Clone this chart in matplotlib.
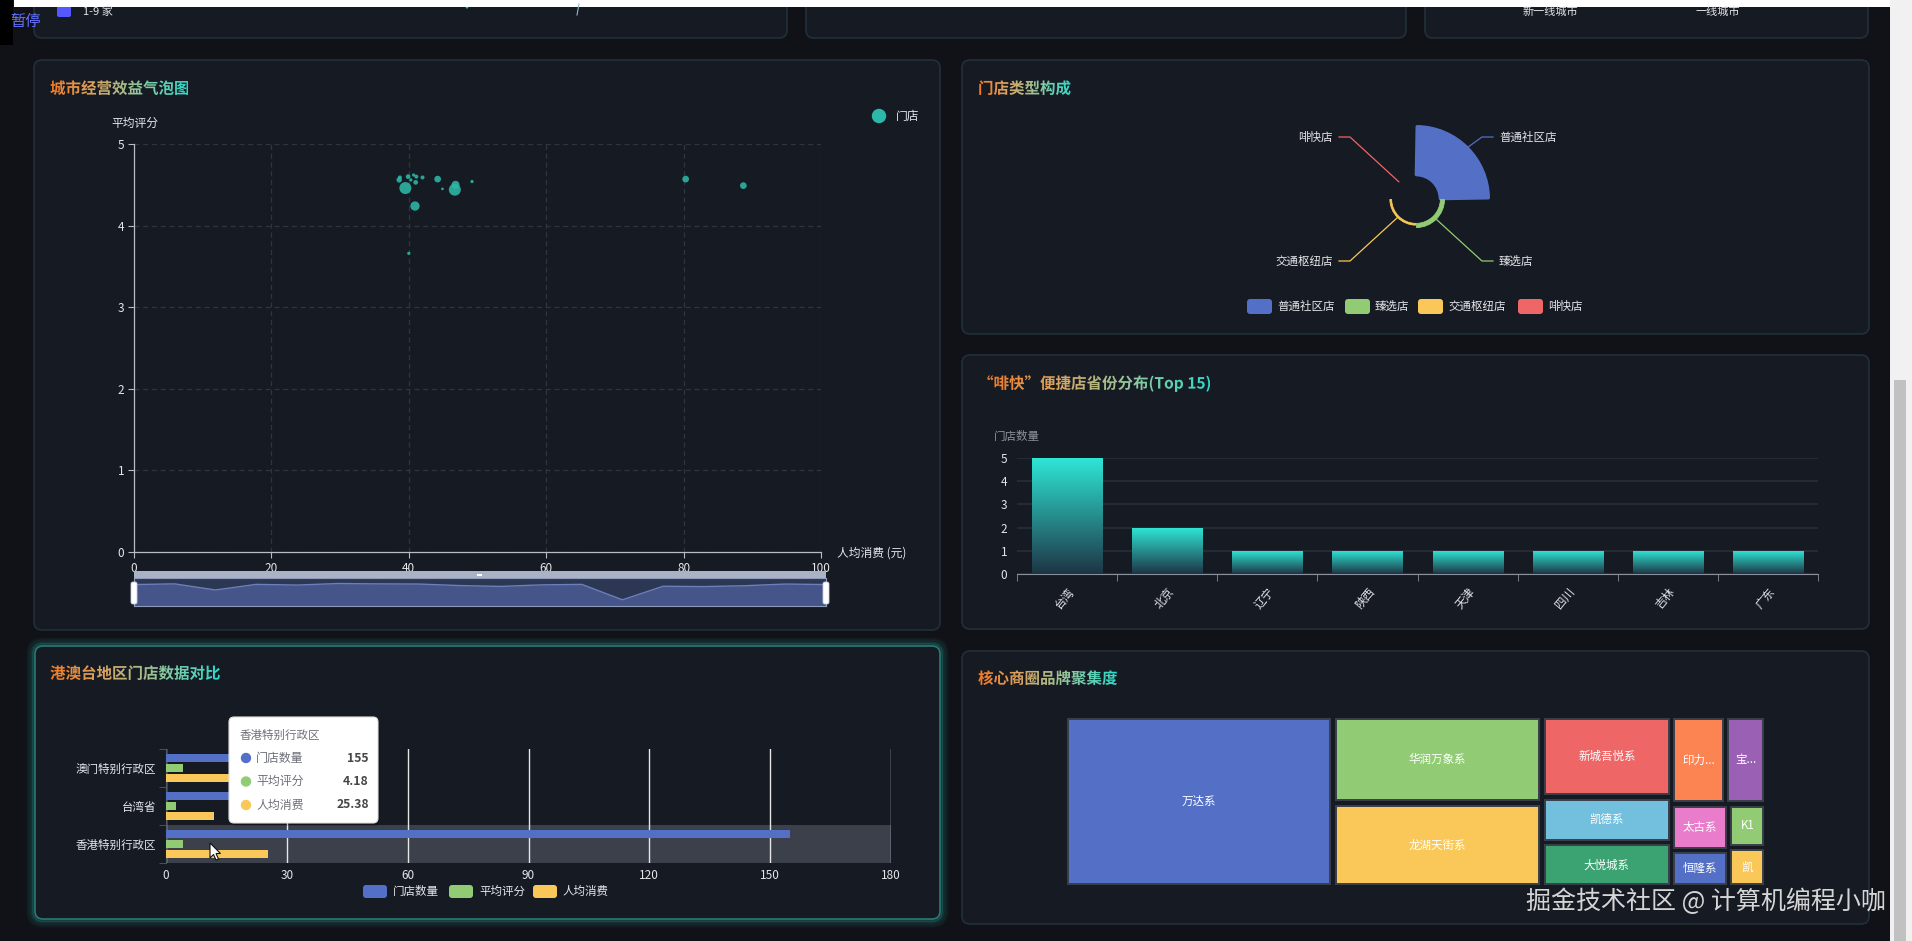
import numpy as np
import matplotlib
matplotlib.use('Agg')
import matplotlib.pyplot as plt
from matplotlib.patches import FancyBboxPatch, Rectangle, Wedge, PathPatch, Polygon, Circle
from matplotlib.textpath import TextPath
from matplotlib.font_manager import FontProperties
from matplotlib.transforms import Affine2D
from matplotlib.colors import LinearSegmentedColormap

plt.rcParams['font.family'] = ['Noto Sans CJK SC', 'DejaVu Sans']
plt.rcParams['axes.unicode_minus'] = False

# ---------------------------------------------------------------- data
bubble_spend = [38.6, 39.9, 40.9, 44.2, 41.0, 40.7, 41.1, 42.0, 46.8, 44.9,
                49.2, 80.3, 40.0, 39.5, 46.7, 88.7, 38.7, 40.3]
bubble_rating = [4.56, 4.60, 4.24, 4.57, 4.53, 4.62, 4.60, 4.59, 4.50, 4.45,
                 4.54, 4.57, 3.66, 4.46, 4.44, 4.49, 4.59, 4.56]
bubble_symbol = [5.4, 4.7, 9.3, 6.7, 4.7, 3.3, 4.0, 4.0, 8.0, 2.7,
                 3.3, 6.7, 3.3, 12.0, 12.0, 6.7, 4.0, 3.3]

store_types = ['普通社区店', '臻选店', '交通枢纽店', '啡快店']
store_type_counts = [1200, 120, 60, 13]

provinces = ['台湾', '北京', '辽宁', '陕西', '天津', '四川', '吉林', '广东']
province_counts = [5, 2, 1, 1, 1, 1, 1, 1]

regions = ['香港特别行政区', '台湾省', '澳门特别行政区']
region_store_counts = [155, 20, 25]
region_ratings = [4.18, 2.6, 4.2]
region_spend = [25.38, 11.9, 28.0]
region_series = ['门店数量', '平均评分', '人均消费']

brands = ['万达系', '华润万象系', '龙湖天街系', '新城吾悦系', '凯德系', '大悦城系',
          '印力...', '宝...', '太古系', '恒隆系', 'K1', '凯']
brand_counts = [310, 123, 118, 71, 40, 39, 32, 24, 18, 14, 11, 10]

PALETTE = ['#5470c6', '#91cc75', '#fac858', '#ee6666', '#73c0de', '#3ba272',
           '#fc8452', '#9a60b4', '#ea7ccc']

# ---------------------------------------------------------------- figure
W, H = 1912, 941
PAGE = '#101218'
PANEL = '#161a22'
EDGE = '#22303a'
TXT = '#e4e6ea'

fig = plt.figure(figsize=(W / 100, H / 100), dpi=100)
fig.patch.set_facecolor(PAGE)

bg = fig.add_axes([0, 0, 1, 1])
bg.set_xlim(0, W); bg.set_ylim(H, 0); bg.axis('off')


def axpx(x0, y0, x1, y1):
    return fig.add_axes([x0 / W, 1 - y1 / H, (x1 - x0) / W, (y1 - y0) / H])


def panel(x0, y0, x1, y1, glow=False):
    if glow:
        for k, a in [(7, 0.05), (5, 0.08), (3, 0.12), (1.5, 0.2)]:
            bg.add_patch(FancyBboxPatch((x0 - k, y0 - k), x1 - x0 + 2 * k, y1 - y0 + 2 * k,
                                        boxstyle=f"round,pad=0,rounding_size={8 + k}",
                                        fc='none', ec='#2bd0bd', lw=2.2, alpha=a))
    bg.add_patch(FancyBboxPatch((x0, y0), x1 - x0, y1 - y0,
                                boxstyle="round,pad=0,rounding_size=8",
                                fc=PANEL, ec='#2a7a72' if glow else EDGE, lw=1.2))


# top (cut off) panels
panel(34, -30, 787, 38)
panel(806, -30, 1406, 38)
panel(1425, -30, 1868, 38)
# main panels
panel(34, 60, 940, 630)
panel(962, 60, 1869, 334)
panel(962, 355, 1869, 629)
panel(35, 646, 940, 919, glow=True)
panel(962, 651, 1869, 924)

# overlay axes for decorations on top
ov = fig.add_axes([0, 0, 1, 1])
ov.set_zorder(10)
ov.axis('off')
ov.set_autoscale_on(False)
ov.set_xlim(0, W); ov.set_ylim(H, 0)

TITLE_FP = FontProperties(family='Noto Sans CJK SC', weight='bold')
title_cmap = LinearSegmentedColormap.from_list('tg', ['#f27b25', '#d7a765', '#8cc9a2', '#2fd9c9'])


def grad_title(x, yc, text, size=15.5):
    tp = TextPath((0, 0), text, size=size, prop=TITLE_FP)
    ext = tp.get_extents()
    base = yc + size * 0.36
    path = Affine2D().scale(1, -1).translate(x, base).transform_path(tp)
    patch = PathPatch(path, fc='none', ec='none')
    ov.add_patch(patch)
    grad = np.linspace(0, 1, 256).reshape(1, -1)
    im = ov.imshow(grad, cmap=title_cmap, extent=[x + ext.x0, x + ext.x1, base + 5, base - size - 3],
                   aspect='auto', interpolation='bilinear', zorder=20)
    im.set_clip_path(patch)


grad_title(50, 88, '城市经营效益气泡图')
grad_title(978, 88, '门店类型构成')
grad_title(978, 383, '“啡快”便捷店省份分布(Top 15)')
grad_title(50, 673, '港澳台地区门店数据对比')
grad_title(978, 678, '核心商圈品牌聚集度')

# ---------------------------------------------------------------- bubble chart
ax1 = axpx(134, 144, 821, 552)
ax1.set_facecolor('none')
ax1.set_xlim(0, 100); ax1.set_ylim(0, 5)
ax1.set_xticks(np.arange(0, 101, 20)); ax1.set_yticks(np.arange(0, 6, 1))
ax1.grid(True, color='#2e3442', lw=0.9, ls=(0, (4, 3)))
ax1.set_axisbelow(True)
for s in ['top', 'right']:
    ax1.spines[s].set_visible(False)
for s in ['left', 'bottom']:
    ax1.spines[s].set_color('#b8bcc4'); ax1.spines[s].set_linewidth(0.9)
ax1.tick_params(colors='#b8bcc4', labelcolor=TXT, labelsize=8.5, length=4, width=0.8, pad=3)
ax1.scatter(bubble_spend, bubble_rating, s=(np.array(bubble_symbol) * 0.72) ** 2,
            c='#2cb8a8', alpha=0.88, edgecolors='none', zorder=3)
ov.text(135, 123, '平均评分', color=TXT, fontsize=8.5, ha='center', va='center')
ov.text(837, 553, '人均消费 (元)', color=TXT, fontsize=8.5, ha='left', va='center')
ov.add_patch(Circle((879, 116), 6.5, color='#2cb8a8'))
ov.text(896, 116, '门店', color=TXT, fontsize=8.5, ha='left', va='center')

# data-zoom slider
ov.add_patch(Rectangle((134, 571), 692, 7, fc='#aab2c6', ec='none'))
ov.add_patch(Rectangle((477, 573.5), 5, 2, fc='#ffffff', ec='none'))
axs = axpx(134, 578, 826, 606)
axs.set_facecolor('#2c3754')
n = len(bubble_rating)
rmin, rmax = min(bubble_rating), max(bubble_rating)
span = rmax - rmin
axs.set_xlim(0, n - 1)
axs.set_ylim(rmin - 0.38 * span, rmax + 0.34 * span)
axs.fill_between(np.arange(n), bubble_rating, rmin - 0.38 * span, color='#45558a', lw=0)
axs.plot(np.arange(n), bubble_rating, color='#6b7fb8', lw=1)
axs.set_xticks([]); axs.set_yticks([])
for s in axs.spines.values():
    s.set_color('#8e9ab8'); s.set_linewidth(0.8)
for hx in (134, 826):
    ov.add_patch(FancyBboxPatch((hx - 3, 582), 6, 22, boxstyle='round,pad=0,rounding_size=2',
                                fc='#ffffff', ec='#c8cdd8', lw=0.6))

# ---------------------------------------------------------------- rose pie
axp = axpx(1316, 99, 1516, 299)
axp.set_xlim(-100, 100); axp.set_ylim(-100, 100); axp.axis('off')
r0, r1 = 24.4, 73.0
cmin, cmax = min(store_type_counts), max(store_type_counts)
for i, (name, v) in enumerate(zip(store_types, store_type_counts)):
    rr = r0 + (v - cmin) / (cmax - cmin) * (r1 - r0)
    t1, t2 = 90 - (i + 1) * 90, 90 - i * 90
    col = PALETTE[i]
    if rr - r0 > 0.3:
        lwv = 2.5 if rr - r0 > 8 else 0.6
        axp.add_patch(Wedge((0, 0), rr - lwv * 0.3, t1 + 1.0, t2 - 1.0, width=rr - r0 - lwv * 0.3,
                            fc=col, ec=col, lw=lwv, joinstyle='round'))
    mid = np.deg2rad((t1 + t2) / 2)
    sx, sy = np.sign(np.cos(mid)), np.sign(np.sin(mid))
    p0 = (rr * np.cos(mid), rr * np.sin(mid))
    p1 = (sx * 66, sy * 62)
    p2 = (sx * 77, sy * 62)
    axp.plot([p0[0], p1[0], p2[0]], [p0[1], p1[1], p2[1]], color=col, lw=0.9, clip_on=False)
    axp.text(sx * 83, sy * 62, name, color=TXT, fontsize=8.3, va='center',
             ha='left' if sx > 0 else 'right', clip_on=False)

leg_x = [1247, 1345, 1418, 1518]
for i, name in enumerate(store_types):
    ov.add_patch(FancyBboxPatch((leg_x[i], 299), 25, 15, boxstyle='round,pad=0,rounding_size=3',
                                fc=PALETTE[i], ec='none'))
    ov.text(leg_x[i] + 30, 306.5, name, color=TXT, fontsize=8.3, va='center', ha='left')

# ---------------------------------------------------------------- province bars
ax2 = axpx(1017, 458, 1818, 574)
ax2.set_facecolor('none')
ax2.set_xlim(-0.5, len(provinces) - 0.5); ax2.set_ylim(0, 5)
bars = ax2.bar(np.arange(len(provinces)), province_counts, width=0.7, color='none', zorder=3)
bar_cmap = LinearSegmentedColormap.from_list('bg', ['#1e3444', '#2ee8d8'])
gradv = np.linspace(1, 0, 256).reshape(-1, 1)
for b in bars:
    x0, w0, h0 = b.get_x(), b.get_width(), b.get_height()
    im = ax2.imshow(gradv, cmap=bar_cmap, extent=[x0, x0 + w0, 0, h0], aspect='auto',
                    interpolation='bilinear', zorder=3)
    im.set_clip_path(b)
ax2.set_xlim(-0.5, len(provinces) - 0.5); ax2.set_ylim(0, 5)
ax2.set_yticks(np.arange(0, 6, 1))
ax2.yaxis.grid(True, color='#2b303b', lw=1.1)
ax2.set_axisbelow(True)
for s in ['top', 'right', 'left']:
    ax2.spines[s].set_visible(False)
ax2.spines['bottom'].set_color('#8a909c')
ax2.set_xticks(np.arange(len(provinces)))
ax2.set_xticklabels(provinces, rotation=50, ha='right', va='top', rotation_mode='anchor')
ax2.set_xticks(np.arange(-0.5, len(provinces), 1), minor=True)
ax2.tick_params(axis='x', which='major', length=0, pad=8, labelcolor=TXT, labelsize=8.3)
ax2.tick_params(axis='x', which='minor', length=5, color='#8a909c')
ax2.tick_params(axis='y', length=0, labelcolor=TXT, labelsize=8.5, pad=7)
ov.text(1017, 436, '门店数量', color='#8c919c', fontsize=8.3, ha='center', va='center')

# ---------------------------------------------------------------- HK / Macau / Taiwan
ax3 = axpx(166, 749, 891, 863)
ax3.set_facecolor('none')
ax3.set_xlim(0, 180); ax3.set_ylim(-0.5, 2.5)
ax3.add_patch(Rectangle((0, -0.5), 180, 1, fc='#3b404a', ec='none', zorder=0.5))
yy = np.arange(len(regions))
series_vals = [region_store_counts, region_ratings, region_spend]
offs = [0.258, 0.0, -0.258]
for k in range(3):
    ax3.barh(yy + offs[k], series_vals[k], height=0.225, color=PALETTE[k], zorder=3)
ax3.set_xticks(np.arange(0, 181, 30))
ax3.xaxis.grid(True, color='#e6e6e6', lw=1.0, zorder=1)
ax3.set_axisbelow(True)
ax3.set_yticks(yy)
ax3.set_yticklabels(regions)
ax3.set_yticks(np.arange(-0.5, 3, 1), minor=True)
for s in ['top', 'right', 'bottom']:
    ax3.spines[s].set_visible(False)
ax3.spines['left'].set_color('#4f5a62')
ax3.tick_params(axis='y', which='major', length=0, pad=7, labelcolor=TXT, labelsize=8.3)
ax3.tick_params(axis='y', which='minor', length=5, color='#4f5a62')
ax3.tick_params(axis='x', length=0, pad=4, labelcolor=TXT, labelsize=8.5)

lx = [363, 449, 533]
for k, name in enumerate(region_series):
    ov.add_patch(FancyBboxPatch((lx[k], 885), 24, 13, boxstyle='round,pad=0,rounding_size=3',
                                fc=PALETTE[k], ec='none'))
    ov.text(lx[k] + 30, 891.5, name, color=TXT, fontsize=8.3, va='center', ha='left')

# tooltip
ov.add_patch(FancyBboxPatch((231, 720), 149, 106, boxstyle='round,pad=0,rounding_size=5',
                            fc='#000000', ec='none', alpha=0.18))
ov.add_patch(FancyBboxPatch((229, 717), 149, 106, boxstyle='round,pad=0,rounding_size=5',
                            fc='#ffffff', ec='#e0e0e0', lw=0.8))
ov.text(240, 735, regions[0], color='#6e7079', fontsize=8.3, va='center', ha='left')
tip_vals = [f'{region_store_counts[0]}', f'{region_ratings[0]:.2f}', f'{region_spend[0]:.2f}']
for k, name in enumerate(region_series):
    yk = 758 + k * 23.5
    ov.add_patch(Circle((246, yk), 4.5, color=PALETTE[k]))
    ov.text(256, yk, name, color='#6e7079', fontsize=8.6, va='center', ha='left')
    ov.text(369, yk, tip_vals[k], color='#464646', fontsize=8.8, va='center', ha='right',
            fontweight='bold')

# mouse cursor
cx, cy = 210, 843
cur = np.array([(0, 0), (0, 15), (3.5, 11.5), (6, 17), (8.5, 16), (6, 10.5), (10.5, 10.5)])
ov.add_patch(Polygon(cur + [cx, cy], closed=True, fc='#ffffff', ec='#111111', lw=0.8))

# ---------------------------------------------------------------- treemap


def ec_squarify(values, w, h, ratio=(1 + 5 ** 0.5) / 2):
    total = float(sum(values))
    areas = [v / total * w * h for v in values]
    rect = {'x': 0.0, 'y': 0.0, 'width': float(w), 'height': float(h)}
    out = [None] * len(values)

    def worst(row, row_area, fixed):
        amax = max(areas[i] for i in row)
        amin = min(areas[i] for i in row)
        sq = row_area ** 2
        f = fixed * fixed * ratio
        return max(f * amax / sq, sq / (f * amin))

    def position(row, row_area, fixed, flush):
        if fixed == rect['width']:
            a0, a1, d0, d1 = 'x', 'y', 'width', 'height'
        else:
            a0, a1, d0, d1 = 'y', 'x', 'height', 'width'
        last = rect[a0]
        other = row_area / fixed if fixed else 0
        if flush or other > rect[d1]:
            other = rect[d1]
        for k, i in enumerate(row):
            step = areas[i] / other if other else 0
            remain = rect[a0] + rect[d0] - last
            mod = remain if (k == len(row) - 1 or remain < step) else step
            lay = {a0: last, a1: rect[a1], d0: mod, d1: other}
            out[i] = (lay['x'], lay['y'], lay['width'], lay['height'])
            last += mod
        rect[a1] += other
        rect[d1] -= other

    items = list(range(len(values)))
    row, row_area, best = [], 0.0, float('inf')
    fixed = min(w, h)
    while items:
        i = items[0]
        row.append(i)
        row_area += areas[i]
        score = worst(row, row_area, fixed)
        if score <= best:
            items.pop(0)
            best = score
        else:
            row_area -= areas[row.pop()]
            position(row, row_area, fixed, False)
            fixed = min(rect['width'], rect['height'])
            row, row_area, best = [], 0.0, float('inf')
    if row:
        position(row, row_area, fixed, True)
    return out


TW, TH = 701, 171
axt = axpx(1065, 716, 1065 + TW, 716 + TH)
axt.set_xlim(0, TW); axt.set_ylim(TH, 0); axt.axis('off')
hg = 2.8
cells = ec_squarify(brand_counts, TW, TH)
for i, (x, y, w, h) in enumerate(cells):
    col = PALETTE[i % len(PALETTE)]
    axt.add_patch(Rectangle((x + hg, y + hg), w - 2 * hg, h - 2 * hg, fc=col, ec='#3a3f4a', lw=1.4))
    axt.text(x + w / 2, y + h / 2, brands[i], color='#ffffff', fontsize=8.3,
             ha='center', va='center')

# ---------------------------------------------------------------- chrome / top strip
ov.add_patch(FancyBboxPatch((57, 3), 14, 14, boxstyle='round,pad=0,rounding_size=2',
                            fc='#5558ff', ec='none'))
ov.text(83, 12, '1-9 家', color=TXT, fontsize=8, va='center', ha='left')
ov.add_patch(Polygon([(463, 4), (471, 4), (467, 9)], closed=True, fc='#2cc4b4', ec='none'))
ov.plot([579, 577], [4, 15], color='#8fb8c8', lw=0.8)
ov.add_patch(Rectangle((646, 4), 69, 3, fc='#6fb8ac', ec='none'))
ov.text(1550, 12, '新一线城市', color=TXT, fontsize=8, va='center', ha='center')
ov.text(1718, 12, '一线城市', color=TXT, fontsize=8, va='center', ha='center')
ov.add_patch(Rectangle((14, 0), 1876, 6.5, fc='#ffffff', ec='none'))
ov.add_patch(Rectangle((0, 0), 13, 45, fc='#000000', ec='none'))
ov.text(10, 21, '暂停', color='#6472ff', fontsize=11, va='center', ha='left')
# scrollbar
ov.add_patch(Rectangle((1890, 0), 22, H, fc='#f1f1f1', ec='none'))
ov.add_patch(Rectangle((1894, 380), 12, 561, fc='#c1c1c1', ec='none'))

# watermark
ov.text(1526, 902, '掘金技术社区 @ 计算机编程小咖', color='#e6e6e6', fontsize=18,
        va='center', ha='left', alpha=0.92)

ov.set_xlim(0, W); ov.set_ylim(H, 0)
fig.savefig('out.png', dpi=100, facecolor=PAGE)
